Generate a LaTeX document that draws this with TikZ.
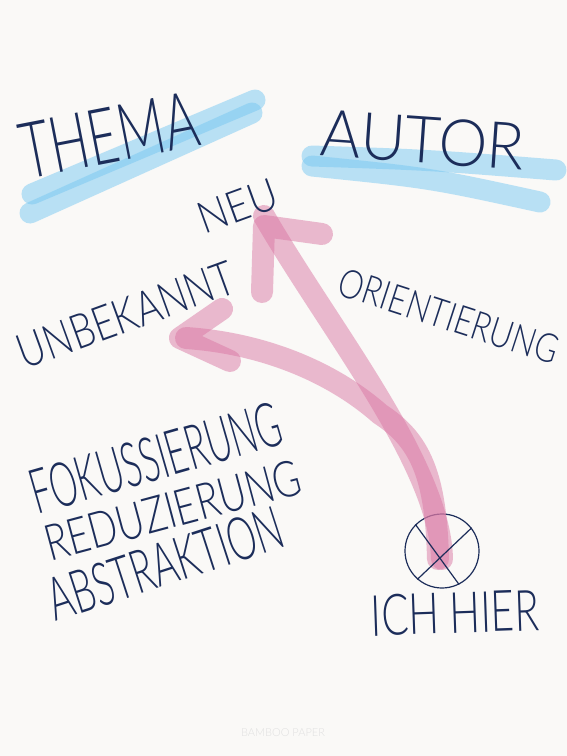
\documentclass[tikz,border=0pt]{standalone}
\usepackage{fontspec}
\usepackage{tikz}
\usetikzlibrary{positioning}

\newfontfamily\handfont{Lato Light}
\definecolor{ink}{RGB}{28,45,90}
\definecolor{paper}{RGB}{250,249,247}
\definecolor{skymark}{RGB}{120,200,242}
\definecolor{rosemark}{RGB}{218,120,164}
\newcommand{\handsize}[1]{\fontsize{#1}{#1}\selectfont}

\begin{document}
\begin{tikzpicture}[
    x=1pt, y=-1pt,
    hand/.style={text=ink, font=\handfont\handsize{#1}, inner sep=0pt},
    bluemark/.style={draw=skymark, line width=21pt, line cap=round, line join=round, draw opacity=0.5},
    pinkmark/.style={draw=rosemark, line width=22pt, line cap=round, line join=round, draw opacity=0.5}
  ]
  \fill[paper] (0,0) rectangle (567,756);
  \useasboundingbox (0,0) rectangle (567,756);

  % highlighter under the two headings
  \draw[bluemark] (32,194) -- (255,100);
  \draw[bluemark] (30,213) -- (252,113);
  \draw[bluemark] (312,156) .. controls (430,160) .. (556,170);
  \draw[bluemark] (312,166) .. controls (430,178) .. (540,202);

  % the spot and the two arrows leaving it
  \node[draw=ink, circle, minimum size=74pt, line width=1.2pt] (here) at (442,551) {};
  \coordinate (tipneu) at (264,226);
  \coordinate (tipunb) at (180,338);

  \draw[pinkmark] ([yshift=-8pt]here.center) .. controls (440,465) and (330,330) .. ([yshift=10pt]tipneu);
  \draw[pinkmark] (262,292) -- (tipneu) -- (322,234);
  \draw[pinkmark] ([xshift=-4pt, yshift=-8pt]here.center) .. controls (436,475) and (420,440) .. (380,414)
    .. controls (330,370) and (260,343) .. ([xshift=6pt]tipunb);
  \draw[pinkmark] (222,309) -- (tipunb) -- (230,361);

  \draw[ink, line width=1.2pt] (here.135) -- (here.-63);
  \draw[ink, line width=1.2pt] (here.38) -- (here.229);

  % words
  \node[rotate=11, hand=78, xscale=0.66] (thema) at (109,135) {THEMA};
  \node[rotate=-4, hand=65, xscale=0.95] (autor) at (423,140) {AUTOR};
  \node[rotate=20, hand=44, xscale=0.9] (neu) at (238,206) {NEU};
  \node[rotate=20, hand=48, xscale=0.78] (unbekannt) at (126,315) {UNBEKANNT};
  \node[rotate=-18, hand=40, xscale=0.79] (orient) at (449,316) {ORIENTIERUNG};
  \node[rotate=16, hand=62, xscale=0.56] (fokus) at (156,458) {FOKUSSIERUNG};
  \node[rotate=15, hand=50, xscale=0.76] (reduz) at (173,510) {REDUZIERUNG};
  \node[rotate=18, hand=60, xscale=0.61] (abstr) at (165,564) {ABSTRAKTION};
  \node[rotate=2, hand=57, xscale=0.71] (ichhier) at (455,613) {ICH HIER};

  \node[text=black!12, font=\handfont\handsize{11}] (brand) at (283,733) {BAMBOO PAPER};
\end{tikzpicture}
\end{document}
